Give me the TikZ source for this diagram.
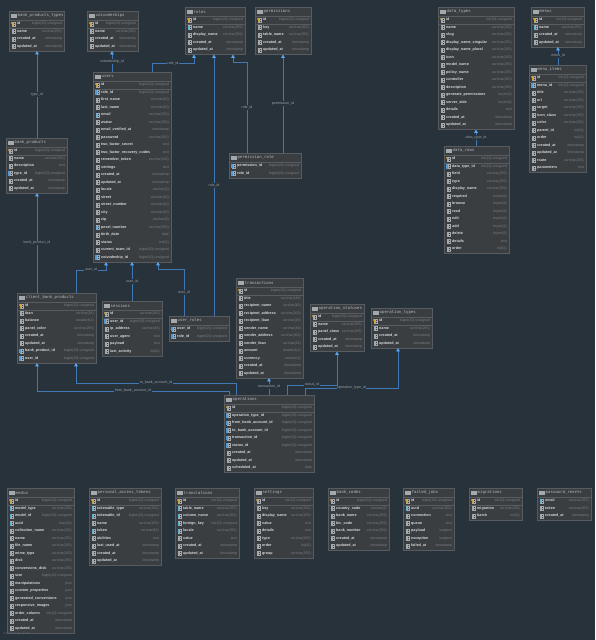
\documentclass[tikz,border=0pt]{standalone}
\usepackage{fontspec}
\setmainfont{Liberation Sans}
\newfontfamily\monofont{DejaVu Sans Mono}
\usetikzlibrary{calc,arrows.meta}
\definecolor{bg}{HTML}{28323A}
\definecolor{boxfill}{HTML}{3B3E41}
\definecolor{boxline}{HTML}{585C60}
\definecolor{titletext}{HTML}{B4BAC0}
\definecolor{nametext}{HTML}{D6D8DA}
\definecolor{typetext}{HTML}{7A8086}
\definecolor{iconline}{HTML}{A4A9AE}
\definecolor{linkblue}{HTML}{3F78B3}
\definecolor{tipblue}{HTML}{5AA6EE}
\definecolor{lbltext}{HTML}{9AA2A9}
\definecolor{pkgold}{HTML}{D6A136}
\definecolor{fkblue}{HTML}{4E9BDB}
\definecolor{ixblue}{HTML}{5BB0D8}
\tikzset{
  tablebox/.style={draw=boxline,fill=boxfill,line width=0.5pt,inner sep=0,outer sep=0},
  hdrline/.style={draw=boxline,line width=0.35pt},
  sepline/.style={draw=boxline,line width=0.35pt},
  tabletitle/.style={font=\monofont\fontsize{4}{5}\selectfont,text=titletext,inner sep=0},
  colname/.style={font=\bfseries\fontsize{3.7}{4}\selectfont,text=nametext,inner sep=0,
    text height=2.7pt,text depth=0.8pt},
  coltype/.style={font=\fontsize{3.5}{4}\selectfont,text=typetext,inner sep=0,
    text height=2.6pt,text depth=0.8pt},
  fkline/.style={draw=linkblue,line width=0.8pt,
    -{Triangle[width=3.6pt,length=3.4pt,color=tipblue]}},
  lbl/.style={font=\fontsize{3.6}{4}\selectfont,text=lbltext,fill=bg,inner sep=0.6pt},
  pics/tbl/.style={code={
    \draw[iconline,line width=0.3pt] (-2.2,-1.8) rectangle (2.2,1.8);
    \draw[iconline,line width=0.3pt] (-2.2,-0.6) -- (2.2,-0.6) (-2.2,0.6) -- (2.2,0.6)
      (-0.7,-1.8) -- (-0.7,1.8) (0.7,-1.8) -- (0.7,1.8);}},
  pics/cl/.style={code={
    \draw[iconline,line width=0.3pt] (-1.8,-2) rectangle (1.8,2);
    \draw[iconline,line width=0.3pt] (0,-2) -- (0,2) (-1.8,0) -- (1.8,0);}},
  pics/ix/.style={code={
    \draw[iconline,line width=0.3pt] (-1.8,-2) rectangle (1.8,2);
    \draw[iconline,line width=0.3pt] (0,-2) -- (0,2) (-1.8,0) -- (1.8,0);
    \fill[ixblue] (-1.8,-2) rectangle (-0.7,2);}},
  pics/fk/.style={code={
    \draw[iconline,line width=0.3pt] (-1.8,-2) rectangle (1.8,2);
    \draw[iconline,line width=0.3pt] (0,-2) -- (0,2) (-1.8,0) -- (1.8,0);
    \fill[fkblue] (-2.3,-2.2) rectangle (-0.9,2.2);}},
  pics/pk/.style={code={
    \draw[iconline,line width=0.3pt] (-1.8,-2) rectangle (1.8,2);
    \draw[iconline,line width=0.3pt] (0,-2) -- (0,2) (-1.8,0) -- (1.8,0);
    \fill[pkgold] (-1.6,-1.1) circle (1);
    \fill[pkgold] (-2,-1) rectangle (-1.2,2.2);
    \draw[sepline] (-4.5,3.75) -- (\tw-4.5,3.75);}}
}
% one table: name, left, right, top, title, rows, icon/column/type list
\newcommand{\dbtable}[7]{%
  \pgfmathsetmacro\tw{#3-#2}%
  \pgfmathsetmacro\th{17.5+7.5*(#6-1)}%
  \node[tablebox,minimum width=\tw pt,minimum height=\th pt,anchor=north west] (#1) at (#2,#4) {};
  \draw[hdrline] ($(#1.north west)+(0,9.5)$) -- ($(#1.north east)+(0,9.5)$);
  \pic at (#2+4.5,#4+4.8) {tbl};
  \node[tabletitle,anchor=west] (#1-t) at (#2+8.5,#4+4.8) {#5};
  \foreach \cico/\cname/\ctype [count=\i] in {#7} {
    \pic at (#2+4.5,#4+13+7.5*\i-7.5) {\cico};
    \node[colname,anchor=west] (#1-\i) at (#2+8,#4+13+7.5*\i-7.5) {\cname};
    \node[coltype,anchor=east] (#1-\i-ty) at (#3-2,#4+13+7.5*\i-7.5) {\ctype};
  }%
}
\begin{document}
\begin{tikzpicture}[x=1pt,y=-1pt]
  \fill[bg] (0,0) rectangle (595,640);
  \useasboundingbox (0,0) rectangle (595,640);
  % top row
  \dbtable{bpt}{9}{64}{11}{bank\_products\_types}{4}{pk/id/bigint(20) unsigned,
    cl/name/varchar(255),cl/created\_at/timestamp,cl/updated\_at/timestamp}
  \dbtable{voiv}{87}{138}{11}{voivodeships}{4}{pk/id/bigint(20) unsigned,
    cl/name/varchar(255),cl/created\_at/timestamp,cl/updated\_at/timestamp}
  \dbtable{roles}{185}{245}{7}{roles}{5}{pk/id/bigint(20) unsigned,
    ix/name/varchar(255),cl/display\_name/varchar(255),cl/created\_at/timestamp,
    cl/updated\_at/timestamp}
  \dbtable{perms}{255}{311}{7}{permissions}{5}{pk/id/bigint(20) unsigned,
    cl/key/varchar(255),cl/table\_name/varchar(255),cl/created\_at/timestamp,
    cl/updated\_at/timestamp}
  \dbtable{permrole}{229}{301}{153}{permission\_role}{2}{fk/permission\_id/bigint(20) unsigned,
    fk/role\_id/bigint(20) unsigned}
  \dbtable{dtypes}{438}{514}{7}{data\_types}{15}{pk/id/int(10) unsigned,
    ix/name/varchar(255),ix/slug/varchar(255),cl/display\_name\_singular/varchar(255),
    cl/display\_name\_plural/varchar(255),cl/icon/varchar(255),cl/model\_name/varchar(255),
    cl/policy\_name/varchar(255),cl/controller/varchar(255),cl/description/varchar(255),
    cl/generate\_permissions/tinyint(1),cl/server\_side/tinyint(4),cl/details/text,
    cl/created\_at/timestamp,cl/updated\_at/timestamp}
  \dbtable{menus}{531}{584}{7}{menus}{4}{pk/id/int(10) unsigned,
    ix/name/varchar(255),cl/created\_at/timestamp,cl/updated\_at/timestamp}
  \dbtable{mitems}{529}{586}{65}{menu\_items}{13}{pk/id/int(10) unsigned,
    fk/menu\_id/int(10) unsigned,cl/title/varchar(255),cl/url/varchar(255),
    cl/target/varchar(255),cl/icon\_class/varchar(255),cl/color/varchar(255),
    cl/parent\_id/int(11),cl/order/int(11),cl/created\_at/timestamp,
    cl/updated\_at/timestamp,cl/route/varchar(255),cl/parameters/text}
  \dbtable{drows}{444}{509}{146}{data\_rows}{13}{pk/id/int(10) unsigned,
    fk/data\_type\_id/int(10) unsigned,cl/field/varchar(255),cl/type/varchar(255),
    cl/display\_name/varchar(255),cl/required/tinyint(1),cl/browse/tinyint(1),
    cl/read/tinyint(1),cl/edit/tinyint(1),cl/add/tinyint(1),cl/delete/tinyint(1),
    cl/details/text,cl/order/int(11)}
  \dbtable{bprod}{6}{67}{138}{bank\_products}{6}{pk/id/bigint(20) unsigned,
    cl/name/varchar(255),cl/description/text,fk/type\_id/bigint(20) unsigned,
    cl/created\_at/timestamp,cl/updated\_at/timestamp}
  \dbtable{users}{93}{171}{72}{users}{24}{pk/id/bigint(20) unsigned,
    fk/role\_id/bigint(20) unsigned,cl/first\_name/varchar(20),cl/last\_name/varchar(20),
    ix/email/varchar(255),cl/avatar/varchar(255),cl/email\_verified\_at/timestamp,
    cl/password/varchar(255),cl/two\_factor\_secret/text,
    cl/two\_factor\_recovery\_codes/text,cl/remember\_token/varchar(100),
    cl/settings/text,cl/created\_at/timestamp,cl/updated\_at/timestamp,
    cl/locale/varchar(3),cl/street/varchar(30),cl/street\_number/varchar(10),
    cl/city/varchar(20),cl/zip/varchar(6),ix/pesel\_number/varchar(255),
    cl/birth\_date/date,cl/status/int(11),cl/current\_team\_id/bigint(20) unsigned,
    fk/voivodeship\_id/bigint(20) unsigned}
  % middle row
  \dbtable{cbp}{17}{96}{293}{client\_bank\_products}{8}{pk/id/bigint(20) unsigned,
    cl/iban/varchar(28),cl/balance/{double(8,2)},cl/panel\_color/varchar(255),
    cl/created\_at/timestamp,cl/updated\_at/timestamp,
    fk/bank\_product\_id/bigint(20) unsigned,fk/user\_id/bigint(20) unsigned}
  \dbtable{sess}{102}{162}{301}{sessions}{6}{pk/id/varchar(255),
    fk/user\_id/bigint(20) unsigned,cl/ip\_address/varchar(45),cl/user\_agent/text,
    cl/payload/text,cl/last\_activity/int(11)}
  \dbtable{uroles}{169}{229}{316}{user\_roles}{2}{fk/user\_id/bigint(20) unsigned,
    fk/role\_id/bigint(20) unsigned}
  \dbtable{trans}{236}{303}{278}{transactions}{12}{pk/id/bigint(20) unsigned,
    cl/title/varchar(140),cl/recipient\_name/varchar(40),
    cl/recipient\_address/varchar(200),cl/recipient\_iban/varchar(28),
    cl/sender\_name/varchar(40),cl/sender\_address/varchar(200),
    cl/sender\_iban/varchar(28),cl/amount/{double(8,2)},cl/currency/varchar(3),
    cl/created\_at/timestamp,cl/updated\_at/timestamp}
  \dbtable{opstat}{310}{364}{304}{operation\_statuses}{5}{pk/id/bigint(20) unsigned,
    cl/name/varchar(255),cl/panel\_class/varchar(255),cl/created\_at/timestamp,
    cl/updated\_at/timestamp}
  \dbtable{optype}{371}{432}{308}{operation\_types}{4}{pk/id/bigint(20) unsigned,
    cl/name/varchar(255),cl/created\_at/timestamp,cl/updated\_at/timestamp}
  \dbtable{ops}{224}{314}{395}{operations}{9}{pk/id/bigint(20) unsigned,
    fk/operation\_type\_id/bigint(20) unsigned,fk/from\_bank\_account\_id/bigint(20) unsigned,
    fk/to\_bank\_account\_id/bigint(20) unsigned,fk/transaction\_id/bigint(20) unsigned,
    fk/status\_id/bigint(20) unsigned,cl/created\_at/timestamp,cl/updated\_at/timestamp,
    cl/scheduled\_at/date}
  % bottom row
  \dbtable{media}{7}{74}{488}{media}{18}{pk/id/bigint(20) unsigned,
    ix/model\_type/varchar(255),ix/model\_id/bigint(20) unsigned,ix/uuid/char(36),
    cl/collection\_name/varchar(255),cl/name/varchar(255),cl/file\_name/varchar(255),
    cl/mime\_type/varchar(255),cl/disk/varchar(255),cl/conversions\_disk/varchar(255),
    cl/size/bigint(20) unsigned,cl/manipulations/json,cl/custom\_properties/json,
    cl/generated\_conversions/json,cl/responsive\_images/json,
    cl/order\_column/int(10) unsigned,cl/created\_at/timestamp,cl/updated\_at/timestamp}
  \dbtable{pat}{89}{161}{488}{personal\_access\_tokens}{9}{pk/id/bigint(20) unsigned,
    ix/tokenable\_type/varchar(255),ix/tokenable\_id/bigint(20) unsigned,
    cl/name/varchar(255),ix/token/varchar(64),cl/abilities/text,
    cl/last\_used\_at/timestamp,cl/created\_at/timestamp,cl/updated\_at/timestamp}
  \dbtable{transl}{175}{239}{488}{translations}{8}{pk/id/int(10) unsigned,
    ix/table\_name/varchar(255),ix/column\_name/varchar(255),
    ix/foreign\_key/int(10) unsigned,ix/locale/varchar(255),cl/value/text,
    cl/created\_at/timestamp,cl/updated\_at/timestamp}
  \dbtable{settings}{254}{313}{488}{settings}{8}{pk/id/int(10) unsigned,
    ix/key/varchar(255),cl/display\_name/varchar(255),cl/value/text,cl/details/text,
    cl/type/varchar(255),cl/order/int(11),cl/group/varchar(255)}
  \dbtable{bcodes}{328}{389}{488}{bank\_codes}{7}{pk/id/bigint(20) unsigned,
    cl/country\_code/varchar(2),cl/bank\_name/varchar(255),cl/bic\_code/varchar(255),
    cl/bank\_number/varchar(255),cl/created\_at/timestamp,cl/updated\_at/timestamp}
  \dbtable{fjobs}{403}{454}{488}{failed\_jobs}{7}{pk/id/bigint(20) unsigned,
    ix/uuid/varchar(255),cl/connection/text,cl/queue/text,cl/payload/longtext,
    cl/exception/longtext,cl/failed\_at/timestamp}
  \dbtable{migr}{469}{522}{488}{migrations}{3}{pk/id/int(10) unsigned,
    cl/migration/varchar(255),cl/batch/int(11)}
  \dbtable{pwres}{537}{591}{488}{password\_resets}{3}{ix/email/varchar(255),
    cl/token/varchar(255),cl/created\_at/timestamp}
  % relations
  \draw[fkline] ($(bprod.north west)+(31,0)$) -- node[lbl] (l-type) {type\_id}
    ($(bpt.south west)+(28,0)$);
  \draw[fkline] ($(users.north west)+(19,0)$) -- node[lbl] (l-voiv) {voivodeship\_id}
    ($(voiv.south west)+(25,0)$);
  \draw[fkline] ($(users.north west)+(59,0)$) |- node[lbl,pos=0.75] (l-role1) {role\_id}
    ($(roles.south west)+(9,9)$) -- ($(roles.south west)+(9,0)$);
  \draw[fkline] ($(uroles.north west)+(45,0)$) -- node[lbl] (l-role2) {role\_id}
    ($(roles.south west)+(29,0)$);
  \draw[fkline] ($(permrole.north west)+(18,0)$) |- node[lbl,pos=0.25] (l-role3) {role\_id}
    ($(roles.south west)+(48,8)$) -- ($(roles.south west)+(48,0)$);
  \draw[fkline] ($(permrole.north west)+(54,0)$) -- node[lbl] (l-perm) {permission\_id}
    ($(perms.south west)+(28,0)$);
  \draw[fkline] ($(drows.north west)+(32,0)$) -- node[lbl] (l-dtype) {data\_type\_id}
    ($(dtypes.south west)+(38,0)$);
  \draw[fkline] ($(mitems.north west)+(29,0)$) -- node[lbl] (l-menu) {menu\_id}
    ($(menus.south west)+(27,0)$);
  \draw[fkline] ($(cbp.north west)+(20,0)$) -- node[lbl] (l-bprod) {bank\_product\_id}
    ($(bprod.south west)+(31,0)$);
  \draw[fkline] ($(cbp.north west)+(59,0)$) |- node[lbl,pos=0.75] (l-user1) {user\_id}
    ($(users.south west)+(13,8)$) -- ($(users.south west)+(13,0)$);
  \draw[fkline] ($(sess.north west)+(30,0)$) -- node[lbl] (l-user2) {user\_id}
    ($(users.south west)+(39,0)$);
  \draw[fkline] ($(uroles.north west)+(15,0)$) |- node[lbl,pos=0.25] (l-user3) {user\_id}
    ($(users.south west)+(65,7)$) -- ($(users.south west)+(65,0)$);
  \draw[fkline] ($(ops.north west)+(45,0)$) -- node[lbl] (l-trans) {transaction\_id}
    ($(trans.south west)+(33,0)$);
  \draw[fkline] ($(ops.north west)+(63,0)$) |- node[lbl,pos=0.75] (l-stat) {status\_id}
    ($(opstat.south west)+(27,33.5)$) -- ($(opstat.south west)+(27,0)$);
  \draw[fkline] ($(ops.north west)+(81,0)$) |- node[lbl,pos=0.75] (l-otype) {operation\_type\_id}
    ($(optype.south west)+(27,40)$) -- ($(optype.south west)+(27,0)$);
  \draw[fkline] ($(ops.north west)+(12,0)$) |- node[lbl,pos=0.75] (l-to) {to\_bank\_account\_id}
    ($(cbp.south west)+(59,20)$) -- ($(cbp.south west)+(59,0)$);
  \draw[fkline] ($(ops.north west)+(5,0)$) |- node[lbl,pos=0.75] (l-from) {from\_bank\_account\_id}
    ($(cbp.south west)+(20,28)$) -- ($(cbp.south west)+(20,0)$);
  \node[font=\fontsize{3.3}{4}\selectfont,text=lbltext!45!bg,anchor=west,inner sep=0]
    (credit) at (3,634) {Powered by yFiles};
\end{tikzpicture}
\end{document}
